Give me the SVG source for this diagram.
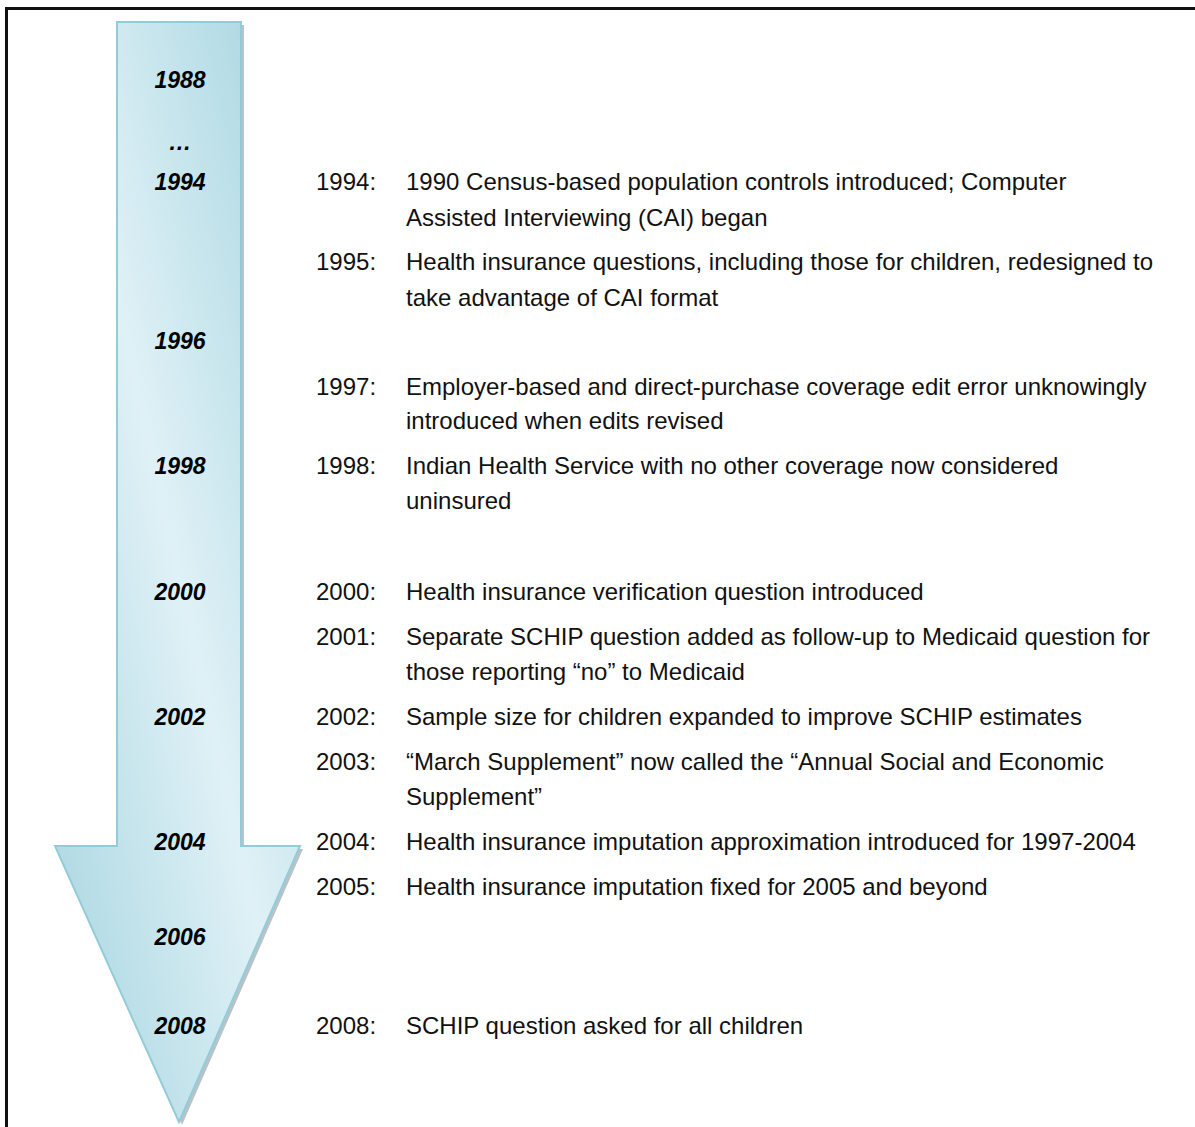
<svg xmlns="http://www.w3.org/2000/svg" width="1195" height="1127" viewBox="0 0 1195 1127">
<defs>
<linearGradient id="g" x1="1" y1="0" x2="0" y2="1">
<stop offset="0" stop-color="#a3d3df"/>
<stop offset="0.5" stop-color="#dff1f6"/>
<stop offset="1" stop-color="#a3d3df"/>
</linearGradient>
</defs>
<style>
.yr{font-family:"Liberation Sans",Arial,sans-serif;font-size:23px;font-weight:bold;font-style:italic;fill:#000;text-anchor:middle}
.t{font-family:"Liberation Sans",Arial,sans-serif;font-size:24px;fill:#111}
</style>
<rect x="0" y="0" width="1195" height="1127" fill="#fff"/>
<rect x="6.5" y="8.5" width="1200" height="1200" fill="none" stroke="#111" stroke-width="3"/>
<g id="arrow">
<polygon points="120,25 244,25 244,849 303,849 182,1125 58,849 120,849" fill="#8a9aa0" opacity="0.6"/>
<polygon points="117,22 241,22 241,846 300,846 179,1122 55,846 117,846" fill="url(#g)" stroke="#93ccd9" stroke-width="2"/>
</g>
<g id="years">
<text class="yr" x="180" y="88">1988</text>
<text class="yr" x="180" y="150">…</text>
<text class="yr" x="180" y="190">1994</text>
<text class="yr" x="180" y="349">1996</text>
<text class="yr" x="180" y="474">1998</text>
<text class="yr" x="180" y="600">2000</text>
<text class="yr" x="180" y="725">2002</text>
<text class="yr" x="180" y="850">2004</text>
<text class="yr" x="180" y="945">2006</text>
<text class="yr" x="180" y="1034">2008</text>
</g>
<g id="events">
<text class="t" x="316" y="190">1994:</text>
<text class="t" x="406" y="190">1990 Census-based population controls introduced; Computer</text>
<text class="t" x="406" y="226">Assisted Interviewing (CAI) began</text>
<text class="t" x="316" y="270">1995:</text>
<text class="t" x="406" y="270">Health insurance questions, including those for children, redesigned to</text>
<text class="t" x="406" y="306">take advantage of CAI format</text>
<text class="t" x="316" y="395">1997:</text>
<text class="t" x="406" y="395">Employer-based and direct-purchase coverage edit error unknowingly</text>
<text class="t" x="406" y="429">introduced when edits revised</text>
<text class="t" x="316" y="474">1998:</text>
<text class="t" x="406" y="474">Indian Health Service with no other coverage now considered</text>
<text class="t" x="406" y="509">uninsured</text>
<text class="t" x="316" y="600">2000:</text>
<text class="t" x="406" y="600">Health insurance verification question introduced</text>
<text class="t" x="316" y="645">2001:</text>
<text class="t" x="406" y="645">Separate SCHIP question added as follow-up to Medicaid question for</text>
<text class="t" x="406" y="680">those reporting “no” to Medicaid</text>
<text class="t" x="316" y="725">2002:</text>
<text class="t" x="406" y="725">Sample size for children expanded to improve SCHIP estimates</text>
<text class="t" x="316" y="770">2003:</text>
<text class="t" x="406" y="770">“March Supplement” now called the “Annual Social and Economic</text>
<text class="t" x="406" y="805">Supplement”</text>
<text class="t" x="316" y="850">2004:</text>
<text class="t" x="406" y="850">Health insurance imputation approximation introduced for 1997-2004</text>
<text class="t" x="316" y="895">2005:</text>
<text class="t" x="406" y="895">Health insurance imputation fixed for 2005 and beyond</text>
<text class="t" x="316" y="1034">2008:</text>
<text class="t" x="406" y="1034">SCHIP question asked for all children</text>
</g>
</svg>
